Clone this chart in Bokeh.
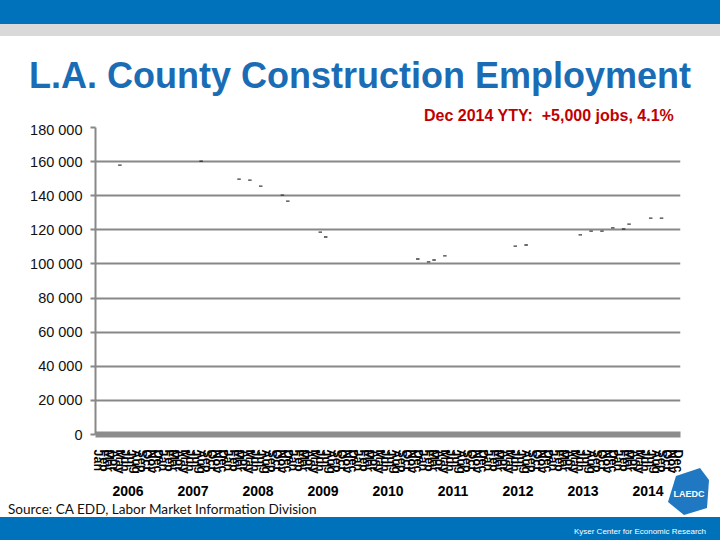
from bokeh.plotting import figure
from bokeh.layouts import column
from bokeh.models import FactorRange, Range1d, FixedTicker, ColumnDataSource, Div
from bokeh.embed import file_html
from bokeh.resources import INLINE

# ---- data ----
years = [str(y) for y in range(2006, 2015)]
months = ["Jan", "Feb", "Mar", "Apr", "May", "Jun",
          "Jul", "Aug", "Sep", "Oct", "Nov", "Dec"]

point_years = ["2006", "2007", "2008", "2008", "2008", "2008", "2008", "2009", "2009",
               "2010", "2011", "2011", "2011", "2012", "2012", "2013", "2013", "2013",
               "2013", "2014", "2014", "2014", "2014"]
point_months = ["May", "Aug", "Mar", "May", "Jul", "Nov", "Dec", "Jun", "Jul",
                "Dec", "Feb", "Mar", "May", "Jun", "Aug", "Jun", "Aug", "Oct",
                "Dec", "Feb", "Mar", "Jul", "Sep"]
employment = [157900, 160200, 149700, 149100, 145600, 140400, 136800, 118700, 115800,
              102900, 101200, 102300, 104700, 110500, 111100, 117000, 119300, 119300,
              121100, 120500, 123400, 126900, 126900]

y_ticks = [0, 20000, 40000, 60000, 80000, 100000, 120000, 140000, 160000, 180000]
y_tick_labels = ["0", "20 000", "40 000", "60 000", "80 000", "100 000",
                 "120 000", "140 000", "160 000", "180 000"]

title_text = "L.A. County Construction Employment"
subtitle_text = "Dec 2014 YTY:  +5,000 jobs, 4.1%"
source_text = "Source: CA EDD, Labor Market Information Division"
footer_text = "Kyser Center for Economic Research"
logo_text = "LAEDC"

W = 720
BLUE = "#0072BC"
HEAD_H, CHART_H, FOOT_H = 121, 377, 42

# ---- header ----
head_html = f"""
<div style="position:relative;width:{W}px;height:{HEAD_H}px;overflow:visible;margin:0;padding:0;">
  <div style="position:absolute;left:0;top:0;width:{W}px;height:24px;background:{BLUE};"></div>
  <div style="position:absolute;left:0;top:24px;width:{W}px;height:12px;background:#D9D9D9;"></div>
  <div style="position:absolute;left:0;top:55.5px;width:{W}px;text-align:center;white-space:nowrap;
       font-family:'Liberation Sans';font-weight:bold;font-size:36px;line-height:40px;color:#1A6DB5;">{title_text}</div>
  <div style="position:absolute;left:424px;top:107px;white-space:pre;
       font-family:'Liberation Sans';font-weight:bold;font-size:16px;line-height:18px;color:#C00000;">{subtitle_text}</div>
</div>"""
head = Div(text=head_html, width=W, height=HEAD_H, margin=(0, 0, 0, 0))

# ---- chart ----
factors = [(y, m) for y in years for m in months]
p = figure(width=W, height=CHART_H,
           x_range=FactorRange(*factors, group_padding=0, factor_padding=0, range_padding=0),
           y_range=Range1d(0, 180000),
           output_backend="svg", toolbar_location=None,
           min_border_left=95, min_border_right=40, min_border_top=6, min_border_bottom=63)
p.outline_line_color = None
p.border_fill_color = None

src = ColumnDataSource(dict(x=list(zip(point_years, point_months)), y=employment))
p.scatter("x", "y", source=src, marker="dash", size=3.5, line_color="#3a3a3a", line_width=1.3)

p.yaxis.ticker = FixedTicker(ticks=y_ticks)
p.yaxis.major_label_overrides = {t: l for t, l in zip(y_ticks, y_tick_labels)}
p.yaxis.axis_line_color = "#888888"
p.yaxis.axis_line_width = 2
p.yaxis.major_tick_line_color = "#888888"
p.yaxis.major_tick_line_width = 2
p.yaxis.major_tick_out = 5
p.yaxis.major_tick_in = 0
p.yaxis.minor_tick_line_color = None
p.yaxis.major_label_text_font = "Liberation Sans"
p.yaxis.major_label_text_font_size = "14.5px"
p.yaxis.major_label_text_color = "#111111"
p.yaxis.major_label_standoff = 8

p.ygrid.grid_line_color = "#888888"
p.ygrid.grid_line_width = 2
p.xgrid.grid_line_color = None

p.xaxis.axis_line_color = "#8c8c8c"
p.xaxis.axis_line_width = 6
p.xaxis.major_tick_line_color = None
p.xaxis.minor_tick_line_color = None
p.xaxis.major_label_orientation = "vertical"
p.xaxis.major_label_text_font = "Liberation Sans"
p.xaxis.major_label_text_font_size = "12.5px"
p.xaxis.major_label_text_font_style = "bold"
p.xaxis.major_label_text_color = "black"
p.xaxis.major_label_standoff = 9
p.xaxis.group_text_font = "Liberation Sans"
p.xaxis.group_text_font_size = "14px"
p.xaxis.group_text_font_style = "bold"
p.xaxis.group_text_color = "black"
p.xaxis.separator_line_color = None

# ---- footer (page rows 498..540) ----
foot_html = f"""
<div style="position:relative;width:{W}px;height:{FOOT_H}px;overflow:visible;margin:0;padding:0;">
  <div style="position:absolute;left:0;top:19px;width:{W}px;height:23px;background:{BLUE};"></div>
  <svg style="position:absolute;left:0;top:-30px;overflow:visible;" width="{W}" height="50">
    <polygon points="676,8 700,0 709,12 707,40 684,47 668,34" fill="#1F78C1"/>
  </svg>
  <div style="position:absolute;left:668px;top:-9px;width:42px;text-align:center;white-space:nowrap;
       font-family:'Liberation Sans';font-weight:bold;font-size:9px;line-height:10px;color:white;">{logo_text}</div>
  <div style="position:absolute;left:8px;top:2px;white-space:nowrap;
       font-family:'Lato';font-size:13.6px;line-height:18px;color:#111111;">{source_text}</div>
  <div style="position:absolute;right:14px;top:29px;white-space:nowrap;
       font-family:'Liberation Sans';font-size:8px;line-height:10px;color:white;">{footer_text}</div>
</div>"""
foot = Div(text=foot_html, width=W, height=FOOT_H, margin=(0, 0, 0, 0))

layout = column(head, p, foot, spacing=0)
open("out.html", "w").write(file_html(layout, INLINE))
